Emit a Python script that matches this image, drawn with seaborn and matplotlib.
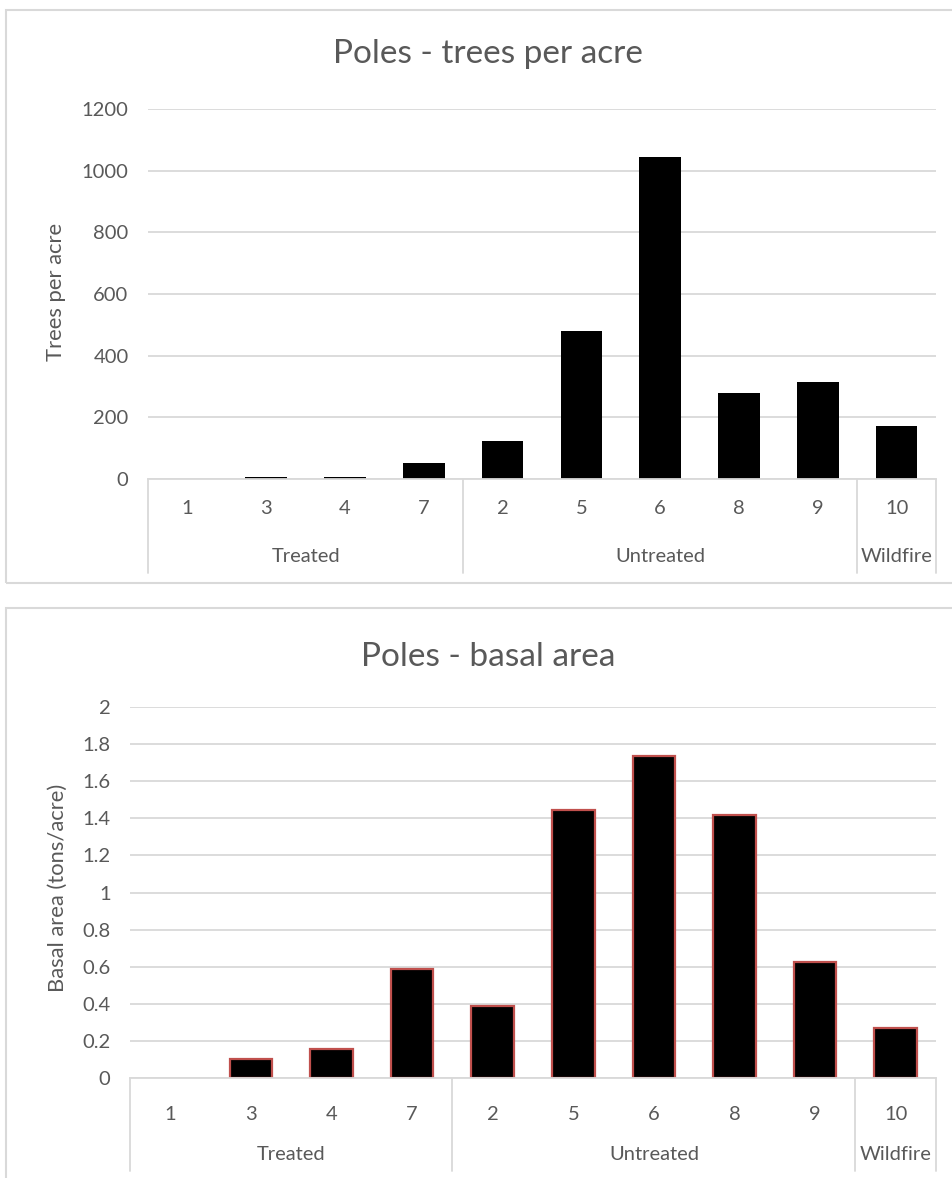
import matplotlib
matplotlib.use("Agg")
import matplotlib.pyplot as plt
import seaborn as sns
import pandas as pd
from matplotlib.patches import Rectangle
from matplotlib.lines import Line2D

# ---- data ----
sites = ["1", "3", "4", "7", "2", "5", "6", "8", "9", "10"]
groups = ["Treated", "Untreated", "Wildfire"]
group_sizes = [4, 5, 1]
trees_per_acre = [0, 8, 6, 52, 123, 480, 1044, 280, 314, 172]
basal_area = [0, 0.10, 0.155, 0.59, 0.39, 1.445, 1.735, 1.42, 0.625, 0.27]
tpa_ticks = [0, 200, 400, 600, 800, 1000, 1200]
ba_ticks = [0, 0.2, 0.4, 0.6, 0.8, 1, 1.2, 1.4, 1.6, 1.8, 2]
ba_tick_labels = ["0", "0.2", "0.4", "0.6", "0.8", "1", "1.2", "1.4", "1.6", "1.8", "2"]

sns.set_theme(style="white")
plt.rcParams["font.family"] = ["Lato", "DejaVu Sans"]

TXT = "#595959"
GRID = "#d9d9d9"
W, H = 952, 1178
fig = plt.figure(figsize=(W / 100, H / 100), dpi=100)


def fx(x):
    return x / W


def fy(y):
    return 1 - y / H


def frame(x0, y0, x1, y1):
    fig.patches.append(Rectangle((fx(x0), fy(y1)), fx(x1) - fx(x0), fy(y0) - fy(y1),
                                 transform=fig.transFigure, fill=False,
                                 edgecolor=GRID, lw=1.5, zorder=0, clip_on=False))


def panel(left, right, top, bottom, values, ticks, ticklabels, ylim, title, title_y,
          ylabel, ylabel_x, ylabel_y, edge, tick_off, grp_off, sep_len):
    ax = fig.add_axes([fx(left), fy(bottom), fx(right) - fx(left), fy(top) - fy(bottom)])
    df = pd.DataFrame({"site": sites, "val": values})
    sns.barplot(data=df, x="site", y="val", order=sites, color="black", width=0.53,
                edgecolor=edge if edge else "black", linewidth=1.6 if edge else 0,
                saturation=1, ax=ax)
    for p in ax.patches:
        if p.get_height() == 0:
            p.set_linewidth(0)
    ax.set_ylim(*ylim)
    ax.set_xlim(-0.5, len(sites) - 0.5)
    ax.set_yticks(ticks)
    ax.set_yticklabels(ticklabels, color=TXT, fontsize=14.5)
    ax.tick_params(axis="y", length=0, pad=14)
    ax.set_xticks([])
    ax.set_xlabel("")
    ax.set_ylabel("")
    ax.yaxis.grid(True, color=GRID, lw=1.3)
    ax.set_axisbelow(True)
    for s in ["top", "right", "left"]:
        ax.spines[s].set_visible(False)
    ax.spines["bottom"].set_color(GRID)
    ax.spines["bottom"].set_linewidth(1.3)
    ax.spines["bottom"].set_zorder(5)
    trans = ax.get_xaxis_transform()
    hpx = bottom - top
    # category labels
    for i, s in enumerate(sites):
        ax.text(i, -tick_off / hpx, s, transform=trans, ha="center", va="center",
                color=TXT, fontsize=14.5)
    # group separators and labels
    start = 0
    bounds = [-0.5]
    for g, n in zip(groups, group_sizes):
        ax.text(start + (n - 1) / 2, -grp_off / hpx, g, transform=trans, ha="center",
                va="center", color=TXT, fontsize=14.5)
        start += n
        bounds.append(start - 0.5)
    for b in bounds:
        ax.add_line(Line2D([b, b], [0, -sep_len / hpx], transform=trans, color=GRID,
                           lw=1.3, clip_on=False))
    fig.text(fx(488), fy(title_y), title, ha="center", va="center",
             color=TXT, fontsize=24)
    fig.text(fx(ylabel_x), fy(ylabel_y), ylabel, rotation=90, ha="center",
             va="center", color=TXT, fontsize=15.8)
    return ax


frame(6, 10, 990, 583)
frame(6, 608, 990, 1190)

panel(148, 936, 109, 479, trees_per_acre, tpa_ticks, [str(t) for t in tpa_ticks],
      (0, 1200), "Poles - trees per acre", 54, "Trees per acre", 56, 292, None,
      30, 78, 94)
panel(130, 936, 707, 1078, basal_area, ba_ticks, ba_tick_labels, (0, 2),
      "Poles - basal area", 657, "Basal area (tons/acre)", 58, 888, "#c0504d",
      37, 76, 93)

fig.savefig("out.png", dpi=100)
